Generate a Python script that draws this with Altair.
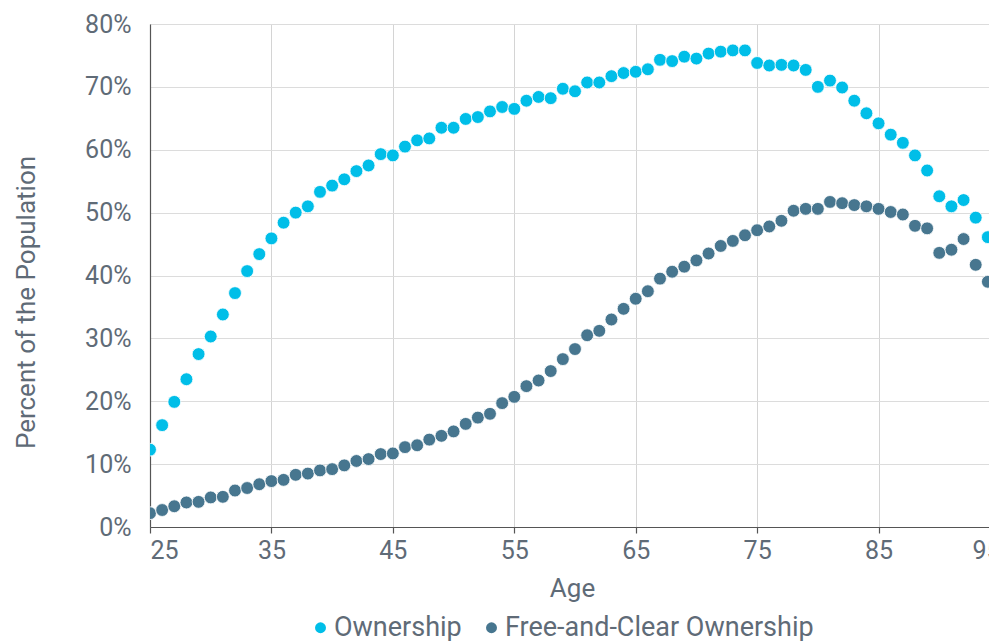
import altair as alt
import pandas as pd

ages = list(range(25, 96))

ownership = [12.3, 16.2, 19.9, 23.5, 27.5, 30.3, 33.8, 37.2, 40.7, 43.4,
             45.9, 48.4, 50.0, 51.0, 53.3, 54.3, 55.3, 56.6, 57.5, 59.3,
             59.1, 60.5, 61.5, 61.8, 63.5, 63.5, 64.9, 65.2, 66.1, 66.8,
             66.5, 67.8, 68.4, 68.2, 69.7, 69.3, 70.7, 70.7, 71.7, 72.2,
             72.4, 72.8, 74.3, 74.1, 74.8, 74.5, 75.3, 75.6, 75.8, 75.8,
             73.8, 73.4, 73.5, 73.4, 72.7, 70.0, 71.0, 69.9, 67.8, 65.8,
             64.2, 62.4, 61.1, 59.1, 56.7, 52.6, 51.0, 52.0, 49.2, 46.1,
             40.6]

free_clear = [2.2, 2.7, 3.3, 3.9, 4.0, 4.7, 4.8, 5.8, 6.2, 6.8,
              7.3, 7.5, 8.3, 8.5, 9.0, 9.2, 9.8, 10.5, 10.8, 11.6,
              11.7, 12.7, 13.0, 13.9, 14.5, 15.2, 16.4, 17.4, 18.0, 19.7,
              20.7, 22.4, 23.3, 24.8, 26.7, 28.3, 30.5, 31.2, 33.0, 34.7,
              36.3, 37.5, 39.5, 40.6, 41.4, 42.4, 43.5, 44.7, 45.5, 46.4,
              47.2, 47.8, 48.7, 50.3, 50.6, 50.6, 51.7, 51.5, 51.2, 51.0,
              50.6, 50.1, 49.7, 47.9, 47.5, 43.6, 44.1, 45.8, 41.7, 39.0,
              36.2]

series_names = ["Ownership", "Free-and-Clear Ownership"]
series_colors = ["#00bee8", "#47768f"]
x_ticks = [25, 35, 45, 55, 65, 75, 85, 95]
y_ticks = [0, 0.1, 0.2, 0.3, 0.4, 0.5, 0.6, 0.7, 0.8]

rows = []
for a, v in zip(ages, ownership):
    rows.append({"Age": a, "Value": v / 100, "Series": series_names[0]})
for a, v in zip(ages, free_clear):
    rows.append({"Age": a, "Value": v / 100, "Series": series_names[1]})
df = pd.DataFrame(rows)

FONT = "Roboto"
TXT = "#5f6b77"

chart = alt.Chart(df).mark_circle(
    size=165, opacity=1, stroke="white", strokeWidth=0.8, clip=True
).encode(
    x=alt.X("Age:Q",
            scale=alt.Scale(domain=[25, 95], nice=False, zero=False),
            axis=alt.Axis(values=x_ticks, title="Age", format="d",
                          grid=True, gridColor="#d4d4d4", gridWidth=1,
                          domainColor="#555555", domainWidth=1.2,
                          tickColor="#555555", tickSize=6, tickWidth=1.2,
                          labelPadding=5, labelFontSize=25, labelColor=TXT,
                          labelFont=FONT, titleFont=FONT, titleFontSize=26,
                          titleColor=TXT, titleFontWeight="normal",
                          titleX=422, titleY=61, titleBaseline="middle",
                          titleAlign="center")),
    y=alt.Y("Value:Q",
            scale=alt.Scale(domain=[0, 0.8], nice=False),
            axis=alt.Axis(values=y_ticks, format=".0%",
                          title="Percent of the Population",
                          grid=True, gridColor="#dcdcdc", gridWidth=1.2,
                          domainColor="#555555", domainWidth=1.2,
                          ticks=False, tickSize=0, labelPadding=19,
                          labelFontSize=25, labelColor=TXT, labelFont=FONT,
                          titleFont=FONT, titleFontSize=26, titleColor=TXT,
                          titleFontWeight="normal", titleAngle=-90,
                          titleX=-124, titleY=278, titleBaseline="middle",
                          titleAlign="center")),
    color=alt.Color("Series:N",
                    scale=alt.Scale(domain=series_names, range=series_colors),
                    sort=series_names,
                    legend=alt.Legend(title=None, orient="none",
                                      direction="horizontal",
                                      legendX=157, legendY=590,
                                      symbolType="circle", symbolSize=120,
                                      symbolStrokeWidth=0,
                                      labelFontSize=27, labelFont=FONT,
                                      labelColor=TXT, labelOffset=0,
                                      labelLimit=0, columnPadding=16)),
).properties(
    width=850,
    height=503,
    autosize=alt.AutoSizeParams(type="none"),
    padding={"left": 142, "top": 16, "right": -11, "bottom": 120},
).configure_view(
    stroke=None
).configure(
    background="white"
)

chart.save("out.html", embed_options={"renderer": "svg", "actions": False})
